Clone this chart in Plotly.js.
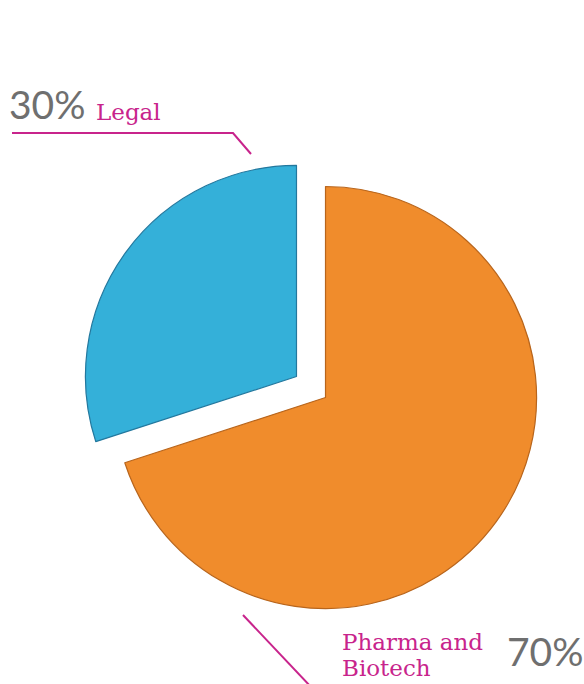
<!DOCTYPE html>
<html>
<head>
<meta charset="utf-8">
<script src="https://cdn.plot.ly/plotly-3.0.1.min.js"></script>
<style>html,body{margin:0;padding:0;background:#fff;}#chart{width:584px;height:684px;}</style>
</head>
<body>
<div id="chart"></div>
<script>
const categories = ["Pharma and Biotech", "Legal"];
const shares = [70, 30];
const pctLabels = ["70%", "30%"];
const nameLines = [["Pharma and", "Biotech"], ["Legal"]];
const sliceColors = ["#F08C2C", "#34B0D9"];
const edgeColors = ["#B8651C", "#23789E"];

const W = 584, H = 684;
const px = x => x / W;
const py = y => 1 - y / H;

const magenta = "#C8248C";
const gray = "#6F6F6F";

const data = [{
  type: "pie",
  labels: categories,
  values: shares,
  sort: false,
  direction: "clockwise",
  rotation: 0,
  pull: [0.085, 0.085],
  textinfo: "none",
  hoverinfo: "label+percent",
  marker: {colors: sliceColors, line: {color: edgeColors, width: 1.2}},
  domain: {x: [px(82), px(540)], y: [py(617), py(157)]},
  showlegend: false
}];

const serif = {family: "'DejaVu Serif', serif", size: 23, color: magenta};
const sans = {family: "Lato, 'Open Sans', sans-serif", size: 39, color: gray};

const layout = {
  width: W, height: H,
  margin: {l: 0, r: 0, t: 0, b: 0},
  paper_bgcolor: "#ffffff",
  showlegend: false,
  annotations: [
    {text: pctLabels[1], xref: "paper", yref: "paper", x: px(7), y: py(129), xanchor: "left", yanchor: "bottom",
     showarrow: false, font: sans},
    {text: nameLines[1][0], xref: "paper", yref: "paper", x: px(94), y: py(127), xanchor: "left", yanchor: "bottom",
     showarrow: false, font: serif},
    {text: nameLines[0][0], xref: "paper", yref: "paper", x: px(340), y: py(657), xanchor: "left", yanchor: "bottom",
     showarrow: false, font: serif},
    {text: nameLines[0][1], xref: "paper", yref: "paper", x: px(340), y: py(683), xanchor: "left", yanchor: "bottom",
     showarrow: false, font: serif},
    {text: pctLabels[0], xref: "paper", yref: "paper", x: px(505), y: py(676), xanchor: "left", yanchor: "bottom",
     showarrow: false, font: sans}
  ],
  shapes: [
    {type: "path", xref: "paper", yref: "paper",
     path: `M ${px(12)} ${py(133)} L ${px(233)} ${py(133)} L ${px(251)} ${py(154)}`,
     line: {color: magenta, width: 2}},
    {type: "line", xref: "paper", yref: "paper",
     x0: px(243), y0: py(615), x1: px(312), y1: py(688),
     line: {color: magenta, width: 2}}
  ]
};

Plotly.newPlot("chart", data, layout, {displayModeBar: false, staticPlot: true});
</script>
</body>
</html>
